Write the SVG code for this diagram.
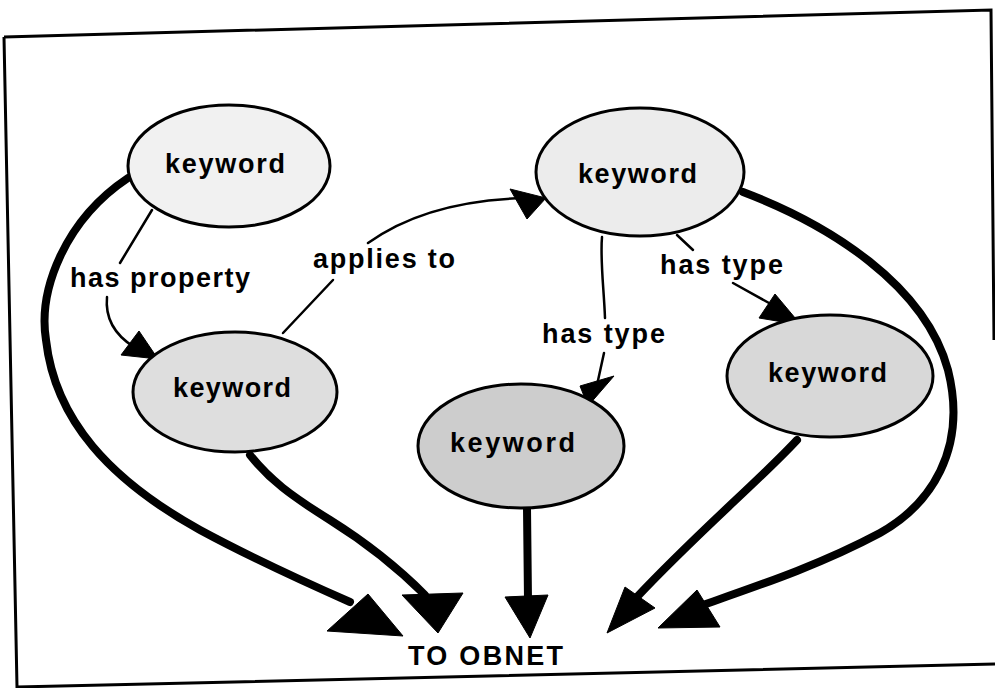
<svg xmlns="http://www.w3.org/2000/svg" width="995" height="688" viewBox="0 0 995 688">
<style>
.frame{fill:none;stroke:#000;stroke-width:3}
.node ellipse{stroke:#000;stroke-width:3}
.t{font-family:"Liberation Sans",Arial,sans-serif;font-weight:bold;font-size:27px;fill:#000}
.thin{fill:none;stroke:#000;stroke-width:2.5;stroke-linecap:round}
.thick{fill:none;stroke:#000;stroke-width:8;stroke-linecap:round}
.head{fill:#000;stroke:#000;stroke-width:1;stroke-linejoin:round}
</style>
<rect width="995" height="688" fill="#fff"/>
<g id="frame">
<path class="frame" d="M4,37 L991,10 L994,340"/>
<path class="frame" d="M4,37 L17,687 L995,664"/>
</g>
<g id="connectors">
<!-- has property -->
<path class="thin" d="M152,210 L120,263"/>
<path class="thin" d="M107,297 C105,318 115,335 134,347"/>
<polygon class="head" points="121,355 139,331 158,359"/>
<!-- applies to -->
<path class="thin" d="M283,333 L333,280"/>
<path class="thin" d="M368,243 C400,220 450,200 525,198"/>
<polygon class="head" points="510,189 527,219 546,198"/>
<!-- has type center -->
<path class="thin" d="M602,237 C600,260 604,290 605,318"/>
<path class="thin" d="M604,353 L597,385"/>
<polygon class="head" points="580,386 614,376 588,406"/>
<!-- has type right -->
<path class="thin" d="M677,235 L693,250"/>
<path class="thin" d="M733,283 L778,308"/>
<polygon class="head" points="759,318 775,294 801,325"/>
<!-- thick arrows to OBNET -->
<path class="thick" d="M128,178 C65,220 38,290 46,340 C55,420 110,480 200,530 C250,557 300,580 350,602"/>
<polygon class="head" points="327,631 368,594 403,636"/>
<path class="thick" d="M250,455 C270,480 290,495 330,520 C370,545 400,570 425,595"/>
<polygon class="head" points="402,595 463,593 438,633"/>
<path class="thick" d="M527,508 L528,600"/>
<polygon class="head" points="505,597 548,595 530,638"/>
<path class="thick" d="M797,440 C760,480 700,530 636,598"/>
<polygon class="head" points="625,587 655,608 607,633"/>
<path class="thick" d="M743,192 C830,225 925,285 948,370 C968,450 930,505 880,533 C820,565 760,585 700,606"/>
<polygon class="head" points="658,628 697,590 720,627"/>
</g>
<g id="n1" class="node">
<ellipse cx="229" cy="166" rx="101" ry="61" fill="#f1f1f1"/>
<text class="t" x="165" y="173" textLength="120" lengthAdjust="spacing">keyword</text>
</g>
<g id="n2" class="node">
<ellipse cx="235" cy="392" rx="102" ry="60" fill="#dedede"/>
<text class="t" x="173" y="397" textLength="118" lengthAdjust="spacing">keyword</text>
</g>
<g id="n3" class="node">
<ellipse cx="640" cy="172" rx="104" ry="64" fill="#ececec"/>
<text class="t" x="578" y="183" textLength="119" lengthAdjust="spacing">keyword</text>
</g>
<g id="n4" class="node">
<ellipse cx="521" cy="446" rx="103" ry="62" fill="#cdcdcd"/>
<text class="t" x="450" y="452" textLength="125" lengthAdjust="spacing">keyword</text>
</g>
<g id="n5" class="node">
<ellipse cx="830" cy="376" rx="103" ry="61" fill="#d8d8d8"/>
<text class="t" x="768" y="382" textLength="119" lengthAdjust="spacing">keyword</text>
</g>
<g id="labels">
<text class="t" x="70" y="287" textLength="180" lengthAdjust="spacing">has property</text>
<text class="t" x="313" y="268" textLength="142" lengthAdjust="spacing">applies to</text>
<text class="t" x="542" y="343" textLength="123" lengthAdjust="spacing">has type</text>
<text class="t" x="660" y="274" textLength="123" lengthAdjust="spacing">has type</text>
<text class="t" x="408" y="665" textLength="155" lengthAdjust="spacing">TO OBNET</text>
</g>
</svg>
